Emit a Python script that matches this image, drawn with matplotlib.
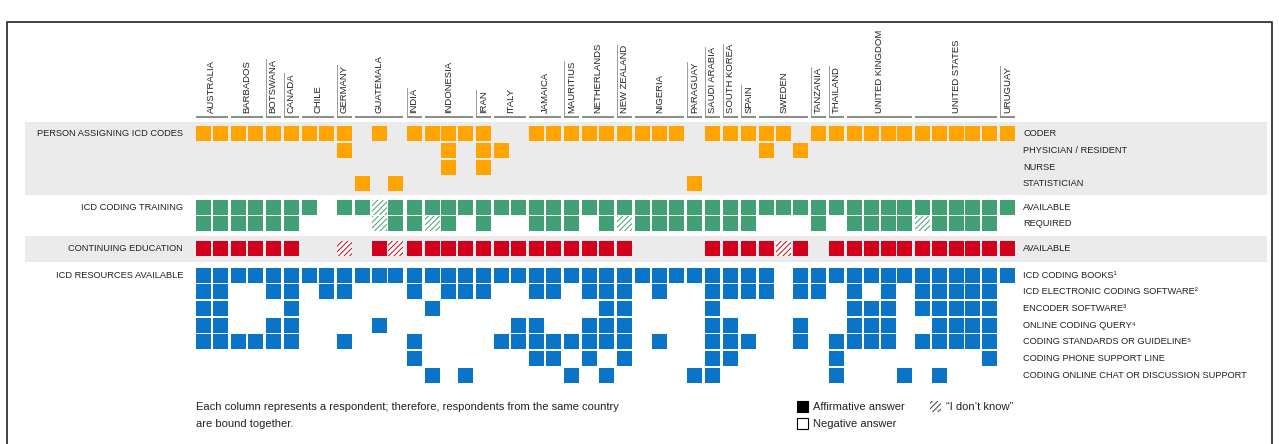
import matplotlib
matplotlib.use("Agg")
import matplotlib.pyplot as plt
from matplotlib.patches import Rectangle

plt.rcParams['font.family'] = ['Liberation Sans', 'DejaVu Sans']
plt.rcParams['hatch.linewidth'] = 0.7

# countries and number of respondents (columns) per country
countries = ["AUSTRALIA", "BARBADOS", "BOTSWANA", "CANADA", "CHILE", "GERMANY",
             "GUATEMALA", "INDIA", "INDONESIA", "IRAN", "ITALY", "JAMAICA",
             "MAURITIUS", "NETHERLANDS", "NEW ZEALAND", "NIGERIA", "PARAGUAY",
             "SAUDI ARABIA", "SOUTH KOREA", "SPAIN", "SWEDEN", "TANZANIA",
             "THAILAND", "UNITED KINGDOM", "UNITED STATES", "URUGUAY"]
respondents = [2, 2, 1, 1, 2, 1, 3, 1, 3, 1, 2, 2, 1, 2, 1, 3, 1, 1, 1, 1, 3, 1, 1, 4, 5, 1]

# answers per respondent, grouped by country: 1 = yes, 0 = no, h = "I don't know"
person_labels = ["CODER", "PHYSICIAN / RESIDENT", "NURSE", "STATISTICIAN"]
person = [
    "11 11 1 1 11 1 010 1 111 1 00 11 1 11 1 111 0 1 1 1 110 1 1 1111 11111 1",
    "00 00 0 0 00 1 000 0 010 1 10 00 0 00 0 000 0 0 0 0 101 0 0 0000 00000 0",
    "00 00 0 0 00 0 000 0 010 1 00 00 0 00 0 000 0 0 0 0 000 0 0 0000 00000 0",
    "00 00 0 0 00 0 101 0 000 0 00 00 0 00 0 000 1 0 0 0 000 0 0 0000 00000 0",
]

training_labels = ["AVAILABLE", "REQUIRED"]
training = [
    "11 11 1 1 10 1 1h1 1 111 1 11 11 1 11 1 111 1 1 1 1 111 1 1 1111 11111 1",
    "11 11 1 1 00 0 0h1 1 h10 1 00 11 1 01 h 111 1 1 1 1 000 1 0 1111 h1111 0",
]

education_labels = ["AVAILABLE"]
education = [
    "11 11 1 1 00 h 01h 1 111 1 11 11 1 11 1 000 0 1 1 1 1h1 0 1 1111 11111 1",
]

resource_labels = ["ICD CODING BOOKS¹", "ICD ELECTRONIC CODING SOFTWARE²",
                   "ENCODER SOFTWARE³", "ONLINE CODING QUERY⁴",
                   "CODING STANDARDS OR GUIDELINE⁵", "CODING PHONE SUPPORT LINE",
                   "CODING ONLINE CHAT OR DISCUSSION SUPPORT"]
resources = [
    "11 11 1 1 11 1 111 1 111 1 11 11 1 11 1 111 1 1 1 1 101 1 1 1111 11111 1",
    "11 00 1 1 01 1 000 1 011 1 00 11 0 11 1 010 0 1 1 1 101 1 0 1010 11111 0",
    "11 00 0 1 00 0 000 0 100 0 00 00 0 01 1 000 0 1 0 0 000 0 0 1110 11111 0",
    "11 00 1 1 00 0 010 0 000 0 01 10 0 11 1 000 0 1 1 0 001 0 0 1110 01111 0",
    "11 11 1 1 00 1 000 1 000 0 11 11 1 11 1 010 0 1 1 1 001 0 1 1110 11111 0",
    "00 00 0 0 00 0 000 1 000 0 00 11 0 10 1 000 0 1 1 0 000 0 1 0000 00001 0",
    "00 00 0 0 00 0 000 0 101 0 00 00 1 01 0 000 1 1 0 0 000 0 1 0001 01000 0",
]

sections = ["PERSON ASSIGNING ICD CODES", "ICD CODING TRAINING",
            "CONTINUING EDUCATION", "ICD RESOURCES AVAILABLE"]

ORANGE = "#ffa400"
GREEN = "#42a075"
RED = "#d2001c"
BLUE = "#0a74c8"
BAND = "#ebebeb"
TEXT = "#222222"

# layout (pixel units)
X0, PITCH, GAP, CELL = 196, 16.67, 1.5, 15
ROW = 16.7

fig = plt.figure(figsize=(12.79, 4.44), dpi=100)
ax = fig.add_axes([0, 0, 1, 1])
ax.set_xlim(0, 1279)
ax.set_ylim(444, 0)
ax.axis("off")

# column positions from the country grouping
col_x = []
group_span = []
col = 0
for g, n in enumerate(respondents):
    start = X0 + col * PITCH + g * GAP
    for k in range(n):
        col_x.append(X0 + col * PITCH + g * GAP)
        col += 1
    group_span.append((start, col_x[-1] + CELL))

# background bands
ax.add_patch(Rectangle((25, 122), 1242, 73, color=BAND, lw=0, zorder=0))
ax.add_patch(Rectangle((25, 236), 1242, 25.5, color=BAND, lw=0, zorder=0))

# frame
ax.plot([7, 7, 1272, 1272], [444, 22, 22, 444], color="#333333", lw=1.3, zorder=0)


def draw_block(rows, labels, color, y_first, section):
    for i, (row, lab) in enumerate(zip(rows, labels)):
        yc = y_first + i * ROW
        vals = row.replace(" ", "")
        for c, v in enumerate(vals):
            if v == "1":
                ax.add_patch(Rectangle((col_x[c], yc - CELL / 2), CELL, CELL,
                                       facecolor=color, edgecolor="none", zorder=2))
            elif v == "h":
                ax.add_patch(Rectangle((col_x[c], yc - CELL / 2), CELL, CELL,
                                       facecolor="white", edgecolor=color, lw=0,
                                       hatch="//////", zorder=2))
        ax.text(1023, yc, lab, ha="left", va="center", fontsize=6.7, color=TEXT)
    ax.text(183, y_first, section, ha="right", va="center", fontsize=6.7, color=TEXT)


draw_block(person, person_labels, ORANGE, 133.8, sections[0])
draw_block(training, training_labels, GREEN, 207, sections[1])
draw_block(education, education_labels, RED, 248.5, sections[2])
draw_block(resources, resource_labels, BLUE, 275, sections[3])

# country header
fig.canvas.draw()
renderer = fig.canvas.get_renderer()
inv = ax.transData.inverted()
for name, n, (x1, x2) in zip(countries, respondents, group_span):
    t = ax.text((x1 + x2) / 2, 113, name, rotation=90, ha="center", va="bottom",
                fontsize=6.8, color=TEXT)
    ax.plot([x1, x2], [117, 117], color="#8a8a8a", lw=1.4, solid_capstyle="butt")
    if n == 1:
        bb = t.get_window_extent(renderer)
        top = inv.transform((bb.x0, bb.y1))[1]
        ax.plot([x1, x1], [117, top], color="#8a8a8a", lw=0.6)

# footnote and legend
ax.text(196, 407, "Each column represents a respondent; therefore, respondents from the same country",
        ha="left", va="center", fontsize=8.0, color=TEXT)
ax.text(196, 424, "are bound together.", ha="left", va="center", fontsize=8.0, color=TEXT)

ax.add_patch(Rectangle((797, 401), 11, 11, facecolor="black", edgecolor="black", lw=0.8))
ax.text(813, 406.5, "Affirmative answer", ha="left", va="center", fontsize=8.0, color=TEXT)
ax.add_patch(Rectangle((797, 418), 11, 11, facecolor="white", edgecolor="black", lw=0.8))
ax.text(813, 423.5, "Negative answer", ha="left", va="center", fontsize=8.0, color=TEXT)
ax.add_patch(Rectangle((930, 401), 11, 11, facecolor="white", edgecolor="#444444", lw=0,
                       hatch="//////"))
ax.text(946, 406.5, "\u201cI don\u2019t know\u201d", ha="left", va="center", fontsize=8.0, color=TEXT)

fig.savefig("out.png", dpi=100)
